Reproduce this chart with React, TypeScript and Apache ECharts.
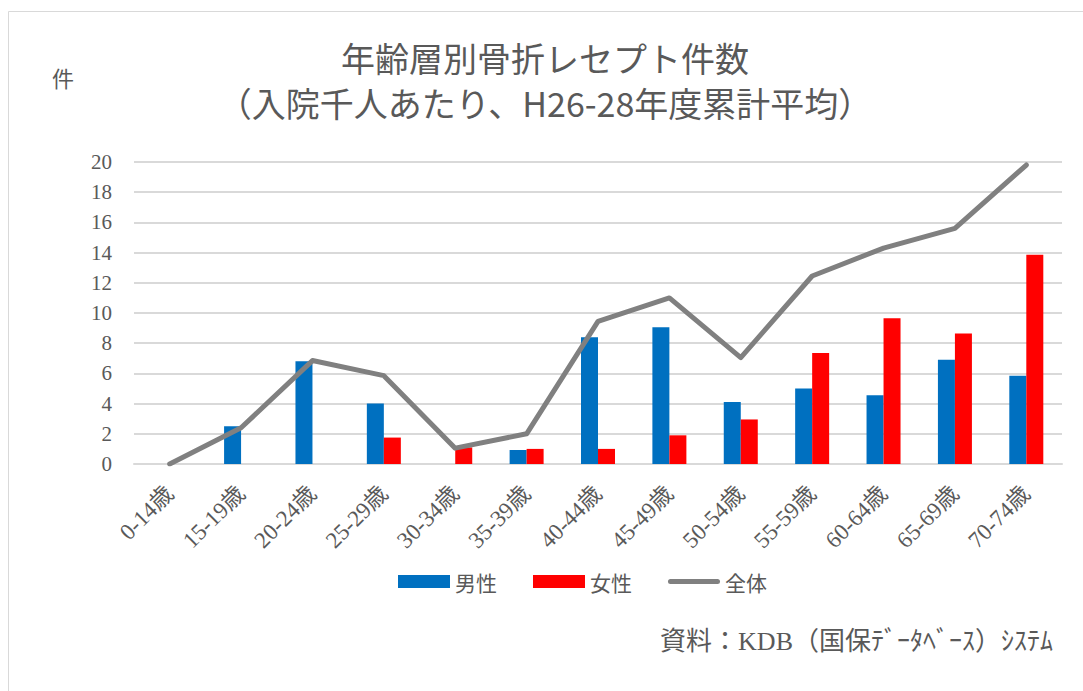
import React, { useEffect, useRef } from "react";
import * as echarts from "echarts";

const categories = [
  "0-14歳", "15-19歳", "20-24歳", "25-29歳", "30-34歳", "35-39歳", "40-44歳",
  "45-49歳", "50-54歳", "55-59歳", "60-64歳", "65-69歳", "70-74歳",
];
const maleValues = [0, 2.5, 6.8, 4.0, 0, 0.93, 8.4, 9.05, 4.1, 5.0, 4.55, 6.9, 5.85];
const femaleValues = [0, 0, 0, 1.75, 1.1, 1.0, 1.0, 1.9, 2.95, 7.35, 9.65, 8.65, 13.85];
const totalValues = [0, 2.4, 6.85, 5.85, 1.05, 2.0, 9.45, 11.0, 7.05, 12.45, 14.3, 15.6, 19.8];
const seriesNames = ["男性", "女性", "全体"];
const titleLine1 = "年齢層別骨折レセプト件数";
const titleLine2 = "（入院千人あたり、H26-28年度累計平均）";
const yUnit = "件";
const sourceText = "資料：KDB（国保ﾃﾞｰﾀﾍﾞｰｽ）ｼｽﾃﾑ";

const TEXT = "#595959";
const SANS = "'Noto Sans CJK JP', 'Noto Sans', sans-serif";
const SERIF = "'Liberation Serif', 'DejaVu Serif', 'Noto Sans CJK JP', serif";

export default function App() {
  const ref = useRef<HTMLDivElement>(null);
  useEffect(() => {
    if (!ref.current) return;
    const chart = echarts.init(ref.current, null, { renderer: "svg" });
    chart.setOption({
      animation: false,
      backgroundColor: "#ffffff",
      grid: { left: 134, right: 21, top: 162, bottom: 227 },
      legend: {
        data: [
          { name: seriesNames[0], icon: "rect" },
          { name: seriesNames[1], icon: "rect" },
          {
            name: seriesNames[2],
            icon: "path://M2.5,0 L49.5,0 A2.5,2.5 0 0 1 49.5,5 L2.5,5 A2.5,2.5 0 0 1 2.5,0 Z",
            itemStyle: { color: "#808080" },
          },
        ],
        left: 393,
        top: 566,
        itemWidth: 52,
        itemHeight: 13,
        itemGap: 36,
        textStyle: { color: TEXT, fontSize: 21, fontFamily: SANS },
      },
      xAxis: {
        type: "category",
        data: categories,
        boundaryGap: true,
        axisLine: { lineStyle: { color: "#d9d9d9", width: 2 } },
        axisTick: { show: false },
        axisLabel: {
          rotate: 45,
          color: TEXT,
          fontSize: 23,
          fontFamily: SERIF,
          margin: 26,
          interval: 0,
        },
      },
      yAxis: {
        type: "value",
        min: 0,
        max: 20,
        interval: 2,
        axisLine: { show: false },
        axisTick: { show: false },
        splitLine: { lineStyle: { color: "#d9d9d9", width: 2 } },
        axisLabel: { color: TEXT, fontSize: 21, fontFamily: SERIF, margin: 22 },
      },
      series: [
        {
          name: seriesNames[0],
          type: "bar",
          data: maleValues,
          barWidth: 17,
          barGap: "0%",
          itemStyle: { color: "#0070c0" },
        },
        {
          name: seriesNames[1],
          type: "bar",
          data: femaleValues,
          barWidth: 17,
          barGap: "0%",
          itemStyle: { color: "#ff0000" },
        },
        {
          name: seriesNames[2],
          type: "line",
          data: totalValues,
          symbol: "none",
          lineStyle: { color: "#808080", width: 5, cap: "round", join: "round" },
          itemStyle: { color: "#808080" },
          z: 5,
        },
      ],
      graphic: [
        {
          type: "rect",
          shape: { x: 8.5, y: 11.5, width: 1100, height: 700 },
          style: { fill: "none", stroke: "#d9d9d9", lineWidth: 1 },
          silent: true,
        },
        {
          type: "text",
          x: 545,
          y: 80,
          style: {
            text: titleLine1 + "\n" + titleLine2,
            fill: TEXT,
            fontSize: 34,
            lineHeight: 45,
            fontFamily: SANS,
            textAlign: "center",
            textVerticalAlign: "middle",
          },
        },
        {
          type: "text",
          x: 63,
          y: 77,
          style: {
            text: yUnit,
            fill: TEXT,
            fontSize: 22,
            fontFamily: SANS,
            textAlign: "center",
            textVerticalAlign: "middle",
          },
        },
        {
          type: "text",
          x: 1053,
          y: 641,
          style: {
            text: sourceText,
            fill: TEXT,
            fontSize: 26,
            fontFamily: SERIF,
            textAlign: "right",
            textVerticalAlign: "middle",
          },
        },
      ],
    });
    return () => chart.dispose();
  }, []);
  return (
    <div
      ref={ref}
      style={{ position: "fixed", left: 0, top: 0, width: 1083, height: 691 }}
    />
  );
}
